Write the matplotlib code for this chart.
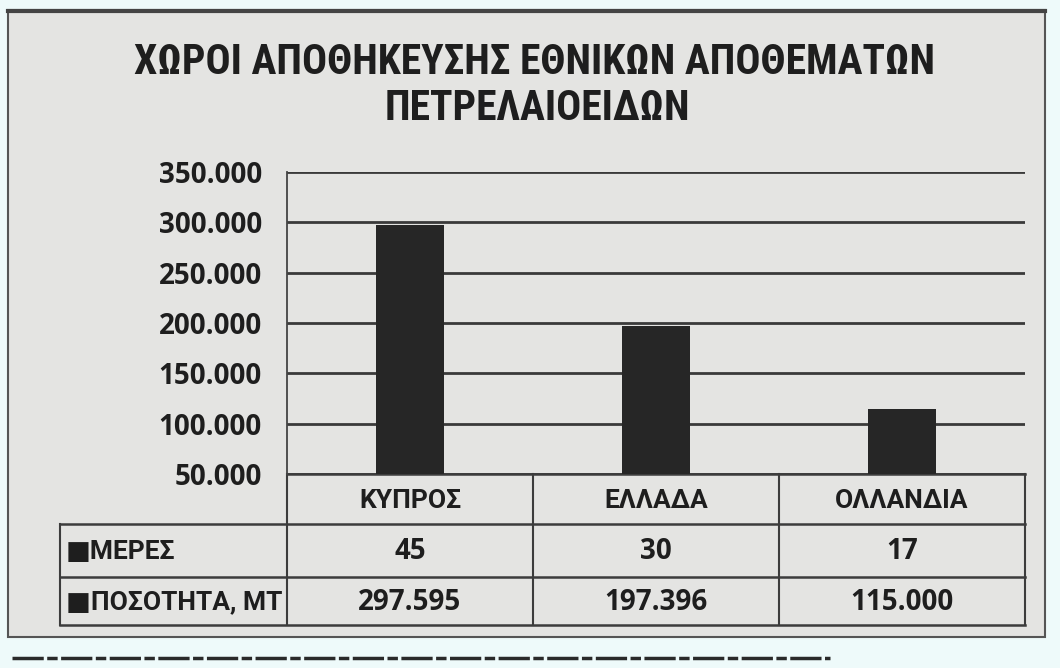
import matplotlib
matplotlib.use("Agg")
import matplotlib.pyplot as plt
from matplotlib.patches import Rectangle

# data
countries = ["ΚΥΠΡΟΣ", "ΕΛΛΑΔΑ", "ΟΛΛΑΝΔΙΑ"]
days = [45, 30, 17]
quantity = [297595, 197396, 115000]
quantity_labels = ["297.595", "197.396", "115.000"]
row_labels = ["■ΜΕΡΕΣ", "■ΠΟΣΟΤΗΤΑ, ΜΤ"]
yticks = [50000, 100000, 150000, 200000, 250000, 300000, 350000]
ytick_labels = ["50.000", "100.000", "150.000", "200.000", "250.000", "300.000", "350.000"]
title_lines = ["ΧΩΡΟΙ ΑΠΟΘΗΚΕΥΣΗΣ ΕΘΝΙΚΩΝ ΑΠΟΘΕΜΑΤΩΝ", "ΠΕΤΡΕΛΑΙΟΕΙΔΩΝ"]

W, H = 1060, 668
paper = "#e4e4e2"
ink = "#1e1e1e"
title_font = ["Roboto Condensed", "Open Sans", "DejaVu Sans"]
label_font = ["Open Sans", "DejaVu Sans"]
greek_font = ["Roboto", "DejaVu Sans"]

fig = plt.figure(figsize=(W / 100, H / 100), dpi=100)
fig.patch.set_facecolor("#eefafa")

# overlay axes in pixel coordinates for frame, title and table
ov = fig.add_axes([0, 0, 1, 1])
ov.set_xlim(0, W)
ov.set_ylim(H, 0)
ov.axis("off")
ov.add_patch(Rectangle((8, 10), 1037, 627, facecolor=paper, edgecolor="#555555", lw=1.5))
ov.plot([8, 1045], [11, 11], color="#444444", lw=3)
ov.plot([12, 830], [658, 658], color="#2a2a2a", lw=2.5, ls=(0, (9, 1, 3, 1)))

ov.text(535, 62, title_lines[0], ha="center", va="center", fontsize=30,
        fontweight="bold", family=title_font, color=ink)
ov.text(537, 108, title_lines[1], ha="center", va="center", fontsize=30,
        fontweight="bold", family=title_font, color=ink)

# bar chart
x0, x1, ytop, ybot = 287, 1025, 172, 474
ax = fig.add_axes([x0 / W, 1 - ybot / H, (x1 - x0) / W, (ybot - ytop) / H])
ax.set_facecolor("none")
ax.bar(range(len(countries)), quantity, width=0.28, color="#262626", zorder=3)
ax.set_xlim(-0.5, len(countries) - 0.5)
ax.set_ylim(50000, 350000)
ax.set_yticks(yticks)
ax.set_yticklabels(ytick_labels, fontsize=20, fontweight="bold", family=label_font, color=ink)
ax.set_xticks([])
ax.tick_params(axis="y", length=0, pad=18)
ax.grid(axis="y", color="#3a3a3a", lw=2, zorder=1)
for s in ["top", "right", "bottom"]:
    ax.spines[s].set_visible(False)
ax.spines["left"].set_color("#444444")
ax.spines["left"].set_linewidth(1.3)

# data table under the bars
col_edges = [287, 533, 779, 1025]
row_edges = [474, 524, 577, 625]
tx0 = 60
lc = "#3c3c3c"
ov.plot([col_edges[0], col_edges[-1]], [row_edges[0]] * 2, color=lc, lw=1.8)
for yy in row_edges[1:]:
    ov.plot([tx0, col_edges[-1]], [yy, yy], color=lc, lw=1.8)
for xx in col_edges:
    ov.plot([xx, xx], [row_edges[0], row_edges[-1]], color=lc, lw=1.5)
ov.plot([tx0, tx0], [row_edges[1], row_edges[-1]], color=lc, lw=1.5)

row_values = [[str(d) for d in days], quantity_labels]
for i, name in enumerate(countries):
    cx = (col_edges[i] + col_edges[i + 1]) / 2
    ov.text(cx, (row_edges[0] + row_edges[1]) / 2 + 2, name, ha="center", va="center",
            fontsize=19, fontweight="bold", family=greek_font, color=ink)
    for r in range(len(row_labels)):
        cy = (row_edges[r + 1] + row_edges[r + 2]) / 2 + 1
        ov.text(cx, cy, row_values[r][i], ha="center", va="center",
                fontsize=20, fontweight="bold", family=label_font, color=ink)
for r, lab in enumerate(row_labels):
    cy = (row_edges[r + 1] + row_edges[r + 2]) / 2 + 1
    ov.text(tx0 + 6, cy, lab, ha="left", va="center",
            fontsize=19, fontweight="bold", family=greek_font, color=ink)

fig.savefig("out.png", dpi=100, facecolor=fig.get_facecolor())
